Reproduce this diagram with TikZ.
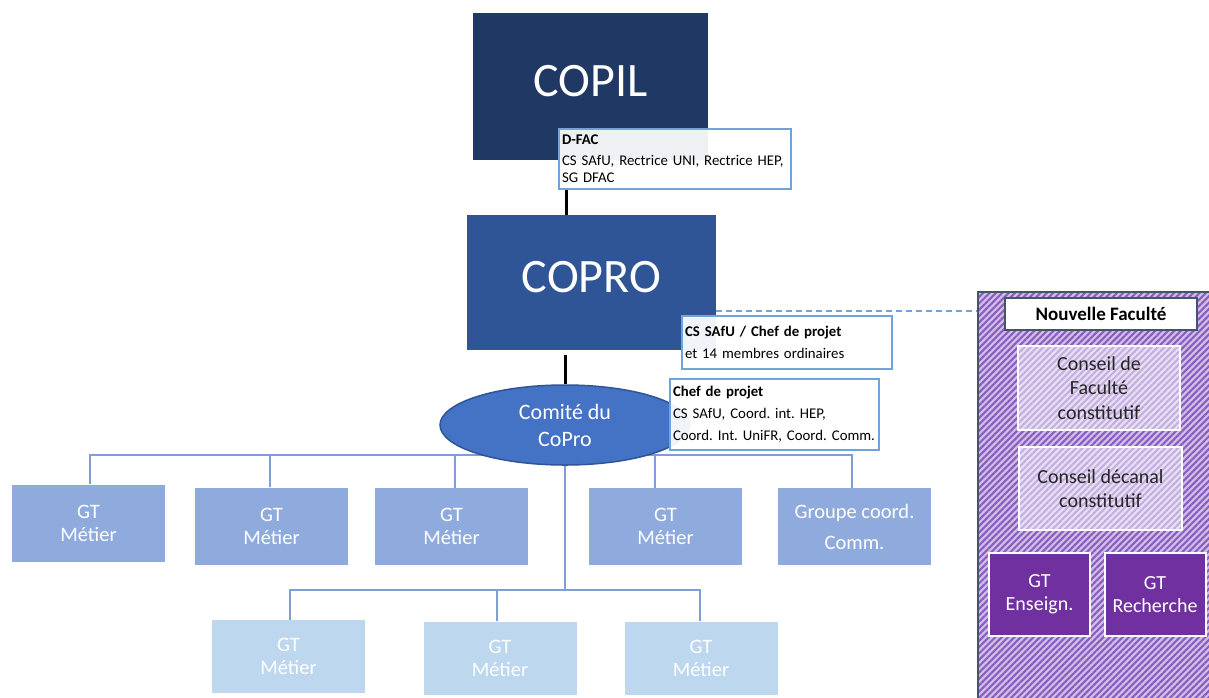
\documentclass[tikz,border=0pt]{standalone}
\usepackage{fontspec}
\setmainfont{Carlito}
\usetikzlibrary{positioning,shapes.geometric,patterns.meta}
\definecolor{copilblue}{HTML}{203864}
\definecolor{coproblue}{HTML}{2F5597}
\definecolor{comblue}{HTML}{4472C4}
\definecolor{gtblue}{HTML}{8FAADC}
\definecolor{gtlight}{HTML}{BDD7EE}
\definecolor{infoblue}{HTML}{6FA3DC}
\definecolor{busblue}{HTML}{7F9ED6}
\definecolor{facpurple}{HTML}{7030A0}
\definecolor{facstripe}{HTML}{8A5CC0}
\definecolor{faclav}{HTML}{D0C0E8}
\definecolor{facedge}{HTML}{44546A}
\frenchspacing

\tikzset{
  bigbox/.style={draw=none, text=white, inner sep=0pt, font=\fontsize{48}{56}\selectfont},
  infobox/.style={draw=infoblue, line width=2pt, fill=white, fill opacity=0.93, text opacity=1,
    align=left, anchor=north west, inner sep=3pt, font=\fontsize{14.8}{22}\selectfont},
  gtbox/.style={draw=none, fill=gtblue, text=white, align=center, inner sep=0pt,
    minimum width=153pt, minimum height=77pt, font=\fontsize{20.5}{23}\selectfont},
  gtlow/.style={gtbox, fill=gtlight, minimum height=73pt},
  bus/.style={draw=busblue, line width=1.5pt},
  link/.style={draw=black, line width=3pt},
  conseil/.style={draw=white, line width=2pt, fill=white, fill opacity=0.5, text opacity=1,
    text=black!85, align=center, inner sep=0pt, font=\fontsize{20}{24.5}\selectfont},
  gtfac/.style={draw=white, line width=2pt, fill=facpurple, text=white, align=center,
    inner sep=0pt, minimum width=101pt, minimum height=83pt, font=\fontsize{20}{23}\selectfont}
}

\begin{document}
\begin{tikzpicture}[x=1pt,y=-1pt]
\useasboundingbox (0,0) rectangle (1209,697);

% faculty panel
\node[draw=facedge, line width=2pt, preaction={fill=faclav},
  pattern={Lines[angle=45,distance=4.5pt,line width=2.1pt]}, pattern color=facstripe,
  minimum width=237pt, minimum height=413pt, inner sep=0pt] (fac) at (1096.5,498.5) {};
\node[draw=facedge, line width=2pt, fill=white, inner sep=0pt, minimum width=192pt, minimum height=32pt,
  font=\fontsize{19}{22}\selectfont\bfseries] (nouv) at (1101,314) {Nouvelle Faculté};
\node[conseil, minimum width=162pt, minimum height=84pt] (cfac) at (1099,388) {Conseil de\\Faculté\\constitutif};
\node[conseil, minimum width=163pt, minimum height=83pt] (cdec) at (1100.5,488.5) {Conseil décanal\\constitutif};
\node[gtfac] (gtens) at (1039.5,594.5) {GT\\Enseign.};
\node[gtfac] (gtrech) at (1155,594.5) {GT\\Recherche};

% buses
\coordinate (tbus) at (565,455);
\coordinate (bbus) at (565,590);

% first row
\node[gtbox] (gt1) at (88.5,523) {GT\\Métier};
\node[gtbox] (gt2) at (271.5,526) {GT\\Métier};
\node[gtbox] (gt3) at (451.5,526.5) {GT\\Métier};
\node[gtbox] (gt4) at (665.5,526.5) {GT\\Métier};
\node[gtbox] (gt5) at (854.5,526.5) {Groupe coord.\\[8pt]Comm.};

% second row
\node[gtlow] (gtb1) at (288.5,656.5) {GT\\Métier};
\node[gtlow] (gtb2) at (500,658) {GT\\Métier};
\node[gtlow] (gtb3) at (701,658) {GT\\Métier};

\draw[bus] ([xshift=1.5]gt1.north) |- (tbus);
\draw[bus] ([xshift=-1.5]gt2.north) |- (tbus);
\draw[bus] ([xshift=3.5]gt3.north) |- (tbus);
\draw[bus] ([xshift=-10.5]gt4.north) |- (tbus);
\draw[bus] ([xshift=-2.5]gt5.north) |- (tbus);
\draw[bus] (tbus) -- (bbus);
\draw[bus] ([xshift=1.5]gtb1.north) |- (bbus);
\draw[bus] ([xshift=-3]gtb2.north) |- (bbus);
\draw[bus] ([xshift=-1]gtb3.north) |- (bbus);

% top of the chart
\node[bigbox, fill=copilblue, minimum width=235pt, minimum height=147pt, text depth=12pt] (copil) at (590.5,86.5) {COPIL};
\node[bigbox, fill=coproblue, minimum width=249pt, minimum height=135pt, text depth=11pt] (copro) at (591.5,282.5) {COPRO};
\node[ellipse, draw=coproblue, line width=1.5pt, fill=comblue, text=white, align=center,
  minimum width=250pt, minimum height=80pt, inner sep=0pt, font=\fontsize{22}{27}\selectfont] (cop) at (565,425) {Comité du\\CoPro};

\node[infobox, text width=226pt, minimum height=60pt] (dfac) at (558,128)
  {\textbf{D-FAC}\\[-1pt]CS SAfU, Rectrice UNI, Rectrice HEP,\\[-5pt]SG DFAC};
\node[infobox, text width=204pt, minimum height=53pt] (chefp) at (681,315)
  {\textbf{CS SAfU / Chef de projet}\\et 14 membres ordinaires};
\node[infobox, text width=203pt, minimum height=71pt] (chefc) at (669,378)
  {\textbf{Chef de projet}\\CS SAfU, Coord. int. HEP,\\Coord. Int. UniFR, Coord. Comm.};

\draw[link] ([xshift=8]dfac.south west) -- ([xshift=8]dfac.south west |- copro.north);
\draw[link] ([yshift=-5]copro.south -| cop.north) -- (cop.north);
\draw[draw=infoblue, line width=1.5pt, dash pattern=on 6pt off 4pt]
  ([yshift=39]copro.south east) -- ([yshift=39]copro.south east -| fac.west);
\end{tikzpicture}
\end{document}
